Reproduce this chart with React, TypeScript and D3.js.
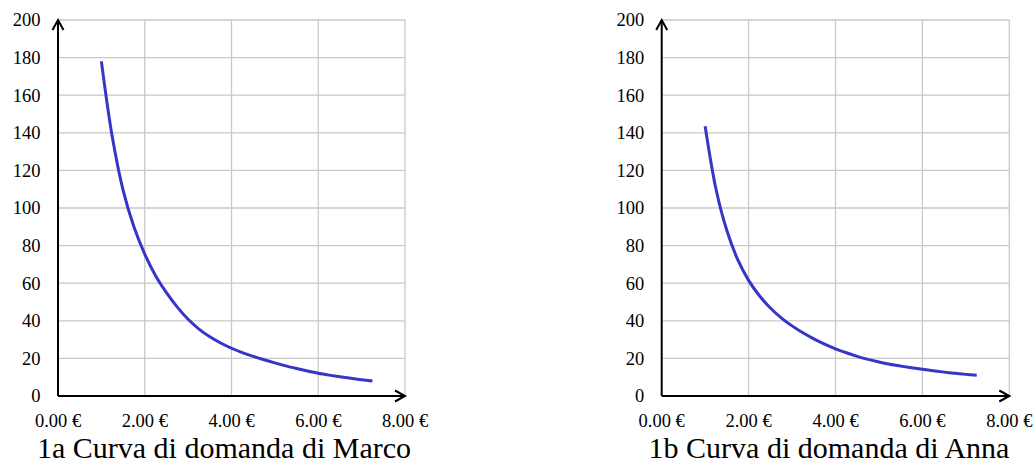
import React from "react";
import * as d3 from "d3";

const prices = [1, 1.25, 1.5, 1.75, 2, 2.25, 2.5, 2.75, 3, 3.25, 3.5, 3.75, 4, 4.25, 4.5, 4.75, 5, 5.25, 5.5, 5.75, 6, 6.25, 6.5, 6.75, 7, 7.25];
const marcoQty = [178, 138, 109.5, 90, 75.5, 64, 55, 47.3, 40.8, 35.6, 31.5, 28.2, 25.4, 23.1, 21.1, 19.3, 17.6, 16, 14.6, 13.3, 12.1, 11.1, 10.2, 9.4, 8.7, 8];
const annaQty = [143.5, 110, 88, 72.5, 61.5, 53.3, 46.8, 41.6, 37.3, 33.6, 30.4, 27.6, 25.1, 23, 21.1, 19.5, 18.1, 16.9, 15.9, 15, 14.2, 13.4, 12.7, 12.1, 11.5, 11];
const yTicks = [0, 20, 40, 60, 80, 100, 120, 140, 160, 180, 200];
const xTicks = [0, 2, 4, 6, 8];
const titles = ["1a Curva di domanda di Marco", "1b Curva di domanda di Anna"];

const FONT = "'Liberation Serif', 'Times New Roman', serif";

function Panel({ x0, x1, qty, title, titleX }: { x0: number; x1: number; qty: number[]; title: string; titleX: number }) {
  const x = d3.scaleLinear().domain([0, 8]).range([x0, x1]);
  const y = d3.scaleLinear().domain([0, 200]).range([396, 20]);
  const line = d3
    .line<[number, number]>()
    .x((d) => x(d[0]))
    .y((d) => y(d[1]))
    .curve(d3.curveCatmullRom.alpha(0.5));
  const pts: [number, number][] = prices.map((p, i) => [p, qty[i]]);
  const ah = 10;
  const aw = 5.5;
  return (
    <g>
      {yTicks.filter((t) => t > 0).map((t) => (
        <line key={"h" + t} x1={x(0)} x2={x(8)} y1={y(t)} y2={y(t)} stroke="#c9c9c9" strokeWidth={1.3} />
      ))}
      {xTicks.filter((t) => t > 0).map((t) => (
        <line key={"v" + t} x1={x(t)} x2={x(t)} y1={y(0)} y2={y(200)} stroke="#c9c9c9" strokeWidth={1.3} />
      ))}
      <path d={line(pts) || ""} fill="none" stroke="#3535c8" strokeWidth={3} strokeLinejoin="round" />
      <line x1={x(0)} x2={x(8)} y1={y(0)} y2={y(0)} stroke="#000" strokeWidth={2} />
      <line x1={x(0)} x2={x(0)} y1={y(0)} y2={y(200)} stroke="#000" strokeWidth={2} />
      <polyline
        points={`${x(8) - ah},${y(0) - aw} ${x(8)},${y(0)} ${x(8) - ah},${y(0) + aw}`}
        fill="none"
        stroke="#000"
        strokeWidth={2}
      />
      <polyline
        points={`${x(0) - aw},${y(200) + ah} ${x(0)},${y(200)} ${x(0) + aw},${y(200) + ah}`}
        fill="none"
        stroke="#000"
        strokeWidth={2}
      />
      {yTicks.map((t) => (
        <text
          key={"yl" + t}
          x={x(0) - 17.5}
          y={y(t)}
          dy="0.35em"
          textAnchor="end"
          fontFamily={FONT}
          fontSize={18.5}
          fill="#000"
        >
          {t}
        </text>
      ))}
      {xTicks.map((t) => (
        <text
          key={"xl" + t}
          x={x(t)}
          y={426.5}
          textAnchor="middle"
          fontFamily={FONT}
          fontSize={18.5}
          fill="#000"
        >
          {d3.format(".2f")(t) + " €"}
        </text>
      ))}
      <text x={titleX} y={458} textAnchor="middle" fontFamily={FONT} fontSize={30} fill="#000">
        {title}
      </text>
    </g>
  );
}

export default function App() {
  return (
    <svg width={1034} height={463} style={{ position: "absolute", left: 0, top: 0, background: "#fff" }}>
      <rect width={1034} height={463} fill="#fff" />
      <Panel x0={58} x1={405} qty={marcoQty} title={titles[0]} titleX={224} />
      <Panel x0={661.7} x1={1009.3} qty={annaQty} title={titles[1]} titleX={829} />
    </svg>
  );
}
